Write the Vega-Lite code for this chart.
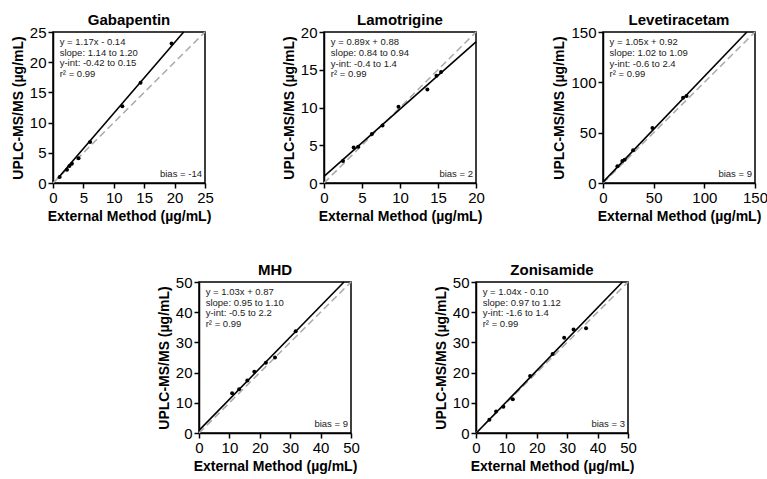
{
  "$schema": "https://vega.github.io/schema/vega-lite/v6.json",
  "background": "white",
  "padding": {"left": 10, "top": 12, "right": 2, "bottom": 2},
  "config": {
    "font": "Liberation Sans",
    "view": {"stroke": "black", "strokeWidth": 1.5},
    "title": {"fontSize": 15, "fontWeight": "bold", "color": "black", "offset": -3, "font": "Liberation Sans"},
    "axis": {"grid": false, "labelFontSize": 15, "labelColor": "black", "labelFont": "Liberation Sans",
      "titleFontSize": 14, "titleFontWeight": "bold", "titleColor": "black", "titleFont": "Liberation Sans",
      "domainColor": "black", "domainWidth": 1.5, "tickColor": "black", "tickWidth": 1.5, "tickSize": 5,
      "labelPadding": 2, "titlePadding": 4, "labelFlush": false, "labelOverlap": false}
  },
  "datasets": {
    "points": [
      {"drug": "Gabapentin", "x": 1.1, "y": 1.0},
      {"drug": "Gabapentin", "x": 2.3, "y": 2.2},
      {"drug": "Gabapentin", "x": 2.7, "y": 2.8},
      {"drug": "Gabapentin", "x": 3.1, "y": 3.2},
      {"drug": "Gabapentin", "x": 4.2, "y": 4.1},
      {"drug": "Gabapentin", "x": 6.1, "y": 6.8},
      {"drug": "Gabapentin", "x": 11.4, "y": 12.7},
      {"drug": "Gabapentin", "x": 14.4, "y": 16.6},
      {"drug": "Gabapentin", "x": 19.5, "y": 23.1},
      {"drug": "Lamotrigine", "x": 2.5, "y": 2.9},
      {"drug": "Lamotrigine", "x": 3.9, "y": 4.7},
      {"drug": "Lamotrigine", "x": 4.5, "y": 4.8},
      {"drug": "Lamotrigine", "x": 6.3, "y": 6.5},
      {"drug": "Lamotrigine", "x": 7.7, "y": 7.6},
      {"drug": "Lamotrigine", "x": 9.8, "y": 10.1},
      {"drug": "Lamotrigine", "x": 13.6, "y": 12.4},
      {"drug": "Lamotrigine", "x": 14.8, "y": 14.2},
      {"drug": "Lamotrigine", "x": 15.4, "y": 14.7},
      {"drug": "Levetiracetam", "x": 14.2, "y": 16.6},
      {"drug": "Levetiracetam", "x": 19.1, "y": 21.9},
      {"drug": "Levetiracetam", "x": 21.4, "y": 23.2},
      {"drug": "Levetiracetam", "x": 29.7, "y": 32.5},
      {"drug": "Levetiracetam", "x": 48.8, "y": 54.6},
      {"drug": "Levetiracetam", "x": 79.0, "y": 84.8},
      {"drug": "Levetiracetam", "x": 82.4, "y": 86.4},
      {"drug": "MHD", "x": 10.9, "y": 13.2},
      {"drug": "MHD", "x": 13.2, "y": 14.5},
      {"drug": "MHD", "x": 15.9, "y": 17.4},
      {"drug": "MHD", "x": 18.2, "y": 20.3},
      {"drug": "MHD", "x": 22.0, "y": 23.3},
      {"drug": "MHD", "x": 25.0, "y": 25.0},
      {"drug": "MHD", "x": 31.8, "y": 33.7},
      {"drug": "Zonisamide", "x": 4.4, "y": 4.4},
      {"drug": "Zonisamide", "x": 6.6, "y": 7.1},
      {"drug": "Zonisamide", "x": 9.0, "y": 8.7},
      {"drug": "Zonisamide", "x": 12.1, "y": 11.2},
      {"drug": "Zonisamide", "x": 17.8, "y": 18.9},
      {"drug": "Zonisamide", "x": 25.2, "y": 26.2},
      {"drug": "Zonisamide", "x": 29.0, "y": 31.5},
      {"drug": "Zonisamide", "x": 32.1, "y": 34.3},
      {"drug": "Zonisamide", "x": 36.2, "y": 34.7}
    ],
    "lines": [
      {"drug": "Gabapentin", "kind": "fit", "x": 0.8, "y": 0.80, "x2": 21.49, "y2": 25},
      {"drug": "Gabapentin", "kind": "identity", "x": 0, "y": 0, "x2": 25, "y2": 25},
      {"drug": "Lamotrigine", "kind": "fit", "x": 0, "y": 0.88, "x2": 20, "y2": 18.68},
      {"drug": "Lamotrigine", "kind": "identity", "x": 0, "y": 0, "x2": 20, "y2": 20},
      {"drug": "Levetiracetam", "kind": "fit", "x": 0, "y": 0.92, "x2": 141.98, "y2": 150},
      {"drug": "Levetiracetam", "kind": "identity", "x": 0, "y": 0, "x2": 150, "y2": 150},
      {"drug": "MHD", "kind": "fit", "x": 0, "y": 0.87, "x2": 47.7, "y2": 50},
      {"drug": "MHD", "kind": "identity", "x": 0, "y": 0, "x2": 50, "y2": 50},
      {"drug": "Zonisamide", "kind": "fit", "x": 0.1, "y": 0.0, "x2": 48.17, "y2": 50},
      {"drug": "Zonisamide", "kind": "identity", "x": 0, "y": 0, "x2": 50, "y2": 50}
    ],
    "notes": [
      {"drug": "Gabapentin", "stats": ["y = 1.17x - 0.14", "slope: 1.14 to 1.20", "y-int: -0.42 to 0.15", "r² = 0.99"], "bias": "bias = -14"},
      {"drug": "Lamotrigine", "stats": ["y = 0.89x + 0.88", "slope: 0.84 to 0.94", "y-int: -0.4 to 1.4", "r² = 0.99"], "bias": "bias = 2"},
      {"drug": "Levetiracetam", "stats": ["y = 1.05x + 0.92", "slope: 1.02 to 1.09", "y-int: -0.6 to 2.4", "r² = 0.99"], "bias": "bias = 9"},
      {"drug": "MHD", "stats": ["y = 1.03x + 0.87", "slope: 0.95 to 1.10", "y-int: -0.5 to 2.2", "r² = 0.99"], "bias": "bias = 9"},
      {"drug": "Zonisamide", "stats": ["y = 1.04x - 0.10", "slope: 0.97 to 1.12", "y-int: -1.6 to 1.4", "r² = 0.99"], "bias": "bias = 3"}
    ]
  },
  "spacing": 38,
  "vconcat": [
    {
      "spacing": 66,
      "hconcat": [
        {
          "title": "Gabapentin", "width": 152, "height": 151,
          "layer": [
            {"data": {"name": "lines"}, "transform": [{"filter": "datum.drug === 'Gabapentin' && datum.kind === 'identity'"}],
             "mark": {"type": "rule", "color": "#aaaaaa", "strokeWidth": 1.6, "strokeDash": [7, 4]},
             "encoding": {"x": {"field": "x", "type": "quantitative", "scale": {"domain": [0, 25], "nice": false}, "axis": {"values": [0, 5, 10, 15, 20, 25], "title": "External Method (µg/mL)"}},
                          "y": {"field": "y", "type": "quantitative", "scale": {"domain": [0, 25], "nice": false}, "axis": {"values": [0, 5, 10, 15, 20, 25], "title": "UPLC-MS/MS (µg/mL)"}},
                          "x2": {"field": "x2"}, "y2": {"field": "y2"}}},
            {"data": {"name": "lines"}, "transform": [{"filter": "datum.drug === 'Gabapentin' && datum.kind === 'fit'"}],
             "mark": {"type": "rule", "color": "black", "strokeWidth": 1.6},
             "encoding": {"x": {"field": "x", "type": "quantitative", "axis": {"values": [0, 5, 10, 15, 20, 25], "title": "External Method (µg/mL)"}},
                          "y": {"field": "y", "type": "quantitative", "axis": {"values": [0, 5, 10, 15, 20, 25], "title": "UPLC-MS/MS (µg/mL)"}},
                          "x2": {"field": "x2"}, "y2": {"field": "y2"}}},
            {"data": {"name": "points"}, "transform": [{"filter": "datum.drug === 'Gabapentin'"}],
             "mark": {"type": "circle", "color": "black", "opacity": 1, "size": 16},
             "encoding": {"x": {"field": "x", "type": "quantitative", "axis": {"values": [0, 5, 10, 15, 20, 25], "title": "External Method (µg/mL)"}},
                          "y": {"field": "y", "type": "quantitative", "axis": {"values": [0, 5, 10, 15, 20, 25], "title": "UPLC-MS/MS (µg/mL)"}}}},
            {"data": {"name": "notes"}, "transform": [{"filter": "datum.drug === 'Gabapentin'"}],
             "mark": {"type": "text", "align": "left", "baseline": "top", "lineHeight": 10.8, "fontSize": 9.5, "color": "#1a1a1a"},
             "encoding": {"x": {"datum": 1.1, "type": "quantitative", "axis": {"values": [0, 5, 10, 15, 20, 25], "title": "External Method (µg/mL)"}},
                          "y": {"datum": 24.2, "type": "quantitative", "axis": {"values": [0, 5, 10, 15, 20, 25], "title": "UPLC-MS/MS (µg/mL)"}},
                          "text": {"field": "stats"}}},
            {"data": {"name": "notes"}, "transform": [{"filter": "datum.drug === 'Gabapentin'"}],
             "mark": {"type": "text", "align": "right", "baseline": "bottom", "fontSize": 9.5, "color": "#1a1a1a"},
             "encoding": {"x": {"datum": 24.5, "type": "quantitative", "axis": {"values": [0, 5, 10, 15, 20, 25], "title": "External Method (µg/mL)"}},
                          "y": {"datum": 0.6, "type": "quantitative", "axis": {"values": [0, 5, 10, 15, 20, 25], "title": "UPLC-MS/MS (µg/mL)"}},
                          "text": {"field": "bias"}}}
          ]
        },
        {
          "title": "Lamotrigine", "width": 152, "height": 151,
          "layer": [
            {"data": {"name": "lines"}, "transform": [{"filter": "datum.drug === 'Lamotrigine' && datum.kind === 'identity'"}],
             "mark": {"type": "rule", "color": "#aaaaaa", "strokeWidth": 1.6, "strokeDash": [7, 4]},
             "encoding": {"x": {"field": "x", "type": "quantitative", "scale": {"domain": [0, 20], "nice": false}, "axis": {"values": [0, 5, 10, 15, 20], "title": "External Method (µg/mL)"}},
                          "y": {"field": "y", "type": "quantitative", "scale": {"domain": [0, 20], "nice": false}, "axis": {"values": [0, 5, 10, 15, 20], "title": "UPLC-MS/MS (µg/mL)"}},
                          "x2": {"field": "x2"}, "y2": {"field": "y2"}}},
            {"data": {"name": "lines"}, "transform": [{"filter": "datum.drug === 'Lamotrigine' && datum.kind === 'fit'"}],
             "mark": {"type": "rule", "color": "black", "strokeWidth": 1.6},
             "encoding": {"x": {"field": "x", "type": "quantitative", "axis": {"values": [0, 5, 10, 15, 20], "title": "External Method (µg/mL)"}},
                          "y": {"field": "y", "type": "quantitative", "axis": {"values": [0, 5, 10, 15, 20], "title": "UPLC-MS/MS (µg/mL)"}},
                          "x2": {"field": "x2"}, "y2": {"field": "y2"}}},
            {"data": {"name": "points"}, "transform": [{"filter": "datum.drug === 'Lamotrigine'"}],
             "mark": {"type": "circle", "color": "black", "opacity": 1, "size": 16},
             "encoding": {"x": {"field": "x", "type": "quantitative", "axis": {"values": [0, 5, 10, 15, 20], "title": "External Method (µg/mL)"}},
                          "y": {"field": "y", "type": "quantitative", "axis": {"values": [0, 5, 10, 15, 20], "title": "UPLC-MS/MS (µg/mL)"}}}},
            {"data": {"name": "notes"}, "transform": [{"filter": "datum.drug === 'Lamotrigine'"}],
             "mark": {"type": "text", "align": "left", "baseline": "top", "lineHeight": 10.8, "fontSize": 9.5, "color": "#1a1a1a"},
             "encoding": {"x": {"datum": 0.9, "type": "quantitative", "axis": {"values": [0, 5, 10, 15, 20], "title": "External Method (µg/mL)"}},
                          "y": {"datum": 19.35, "type": "quantitative", "axis": {"values": [0, 5, 10, 15, 20], "title": "UPLC-MS/MS (µg/mL)"}},
                          "text": {"field": "stats"}}},
            {"data": {"name": "notes"}, "transform": [{"filter": "datum.drug === 'Lamotrigine'"}],
             "mark": {"type": "text", "align": "right", "baseline": "bottom", "fontSize": 9.5, "color": "#1a1a1a"},
             "encoding": {"x": {"datum": 19.6, "type": "quantitative", "axis": {"values": [0, 5, 10, 15, 20], "title": "External Method (µg/mL)"}},
                          "y": {"datum": 0.5, "type": "quantitative", "axis": {"values": [0, 5, 10, 15, 20], "title": "UPLC-MS/MS (µg/mL)"}},
                          "text": {"field": "bias"}}}
          ]
        },
        {
          "title": "Levetiracetam", "width": 152, "height": 151,
          "layer": [
            {"data": {"name": "lines"}, "transform": [{"filter": "datum.drug === 'Levetiracetam' && datum.kind === 'identity'"}],
             "mark": {"type": "rule", "color": "#aaaaaa", "strokeWidth": 1.6, "strokeDash": [7, 4]},
             "encoding": {"x": {"field": "x", "type": "quantitative", "scale": {"domain": [0, 150], "nice": false}, "axis": {"values": [0, 50, 100, 150], "title": "External Method (µg/mL)"}},
                          "y": {"field": "y", "type": "quantitative", "scale": {"domain": [0, 150], "nice": false}, "axis": {"values": [0, 50, 100, 150], "title": "UPLC-MS/MS (µg/mL)"}},
                          "x2": {"field": "x2"}, "y2": {"field": "y2"}}},
            {"data": {"name": "lines"}, "transform": [{"filter": "datum.drug === 'Levetiracetam' && datum.kind === 'fit'"}],
             "mark": {"type": "rule", "color": "black", "strokeWidth": 1.6},
             "encoding": {"x": {"field": "x", "type": "quantitative", "axis": {"values": [0, 50, 100, 150], "title": "External Method (µg/mL)"}},
                          "y": {"field": "y", "type": "quantitative", "axis": {"values": [0, 50, 100, 150], "title": "UPLC-MS/MS (µg/mL)"}},
                          "x2": {"field": "x2"}, "y2": {"field": "y2"}}},
            {"data": {"name": "points"}, "transform": [{"filter": "datum.drug === 'Levetiracetam'"}],
             "mark": {"type": "circle", "color": "black", "opacity": 1, "size": 16},
             "encoding": {"x": {"field": "x", "type": "quantitative", "axis": {"values": [0, 50, 100, 150], "title": "External Method (µg/mL)"}},
                          "y": {"field": "y", "type": "quantitative", "axis": {"values": [0, 50, 100, 150], "title": "UPLC-MS/MS (µg/mL)"}}}},
            {"data": {"name": "notes"}, "transform": [{"filter": "datum.drug === 'Levetiracetam'"}],
             "mark": {"type": "text", "align": "left", "baseline": "top", "lineHeight": 10.8, "fontSize": 9.5, "color": "#1a1a1a"},
             "encoding": {"x": {"datum": 6.5, "type": "quantitative", "axis": {"values": [0, 50, 100, 150], "title": "External Method (µg/mL)"}},
                          "y": {"datum": 145, "type": "quantitative", "axis": {"values": [0, 50, 100, 150], "title": "UPLC-MS/MS (µg/mL)"}},
                          "text": {"field": "stats"}}},
            {"data": {"name": "notes"}, "transform": [{"filter": "datum.drug === 'Levetiracetam'"}],
             "mark": {"type": "text", "align": "right", "baseline": "bottom", "fontSize": 9.5, "color": "#1a1a1a"},
             "encoding": {"x": {"datum": 147, "type": "quantitative", "axis": {"values": [0, 50, 100, 150], "title": "External Method (µg/mL)"}},
                          "y": {"datum": 3.6, "type": "quantitative", "axis": {"values": [0, 50, 100, 150], "title": "UPLC-MS/MS (µg/mL)"}},
                          "text": {"field": "bias"}}}
          ]
        }
      ]
    },
    {
      "spacing": 72,
      "hconcat": [
        {
          "width": 31, "height": 151,
          "view": {"stroke": null},
          "data": {"values": []},
          "mark": {"type": "rule"},
          "encoding": {}
        },
        {
          "title": "MHD", "width": 152, "height": 151,
          "layer": [
            {"data": {"name": "lines"}, "transform": [{"filter": "datum.drug === 'MHD' && datum.kind === 'identity'"}],
             "mark": {"type": "rule", "color": "#aaaaaa", "strokeWidth": 1.6, "strokeDash": [7, 4]},
             "encoding": {"x": {"field": "x", "type": "quantitative", "scale": {"domain": [0, 50], "nice": false}, "axis": {"values": [0, 10, 20, 30, 40, 50], "title": "External Method (µg/mL)"}},
                          "y": {"field": "y", "type": "quantitative", "scale": {"domain": [0, 50], "nice": false}, "axis": {"values": [0, 10, 20, 30, 40, 50], "title": "UPLC-MS/MS (µg/mL)"}},
                          "x2": {"field": "x2"}, "y2": {"field": "y2"}}},
            {"data": {"name": "lines"}, "transform": [{"filter": "datum.drug === 'MHD' && datum.kind === 'fit'"}],
             "mark": {"type": "rule", "color": "black", "strokeWidth": 1.6},
             "encoding": {"x": {"field": "x", "type": "quantitative", "axis": {"values": [0, 10, 20, 30, 40, 50], "title": "External Method (µg/mL)"}},
                          "y": {"field": "y", "type": "quantitative", "axis": {"values": [0, 10, 20, 30, 40, 50], "title": "UPLC-MS/MS (µg/mL)"}},
                          "x2": {"field": "x2"}, "y2": {"field": "y2"}}},
            {"data": {"name": "points"}, "transform": [{"filter": "datum.drug === 'MHD'"}],
             "mark": {"type": "circle", "color": "black", "opacity": 1, "size": 16},
             "encoding": {"x": {"field": "x", "type": "quantitative", "axis": {"values": [0, 10, 20, 30, 40, 50], "title": "External Method (µg/mL)"}},
                          "y": {"field": "y", "type": "quantitative", "axis": {"values": [0, 10, 20, 30, 40, 50], "title": "UPLC-MS/MS (µg/mL)"}}}},
            {"data": {"name": "notes"}, "transform": [{"filter": "datum.drug === 'MHD'"}],
             "mark": {"type": "text", "align": "left", "baseline": "top", "lineHeight": 10.8, "fontSize": 9.5, "color": "#1a1a1a"},
             "encoding": {"x": {"datum": 2.2, "type": "quantitative", "axis": {"values": [0, 10, 20, 30, 40, 50], "title": "External Method (µg/mL)"}},
                          "y": {"datum": 48.4, "type": "quantitative", "axis": {"values": [0, 10, 20, 30, 40, 50], "title": "UPLC-MS/MS (µg/mL)"}},
                          "text": {"field": "stats"}}},
            {"data": {"name": "notes"}, "transform": [{"filter": "datum.drug === 'MHD'"}],
             "mark": {"type": "text", "align": "right", "baseline": "bottom", "fontSize": 9.5, "color": "#1a1a1a"},
             "encoding": {"x": {"datum": 49, "type": "quantitative", "axis": {"values": [0, 10, 20, 30, 40, 50], "title": "External Method (µg/mL)"}},
                          "y": {"datum": 1.2, "type": "quantitative", "axis": {"values": [0, 10, 20, 30, 40, 50], "title": "UPLC-MS/MS (µg/mL)"}},
                          "text": {"field": "bias"}}}
          ]
        },
        {
          "title": "Zonisamide", "width": 152, "height": 151,
          "layer": [
            {"data": {"name": "lines"}, "transform": [{"filter": "datum.drug === 'Zonisamide' && datum.kind === 'identity'"}],
             "mark": {"type": "rule", "color": "#aaaaaa", "strokeWidth": 1.6, "strokeDash": [7, 4]},
             "encoding": {"x": {"field": "x", "type": "quantitative", "scale": {"domain": [0, 50], "nice": false}, "axis": {"values": [0, 10, 20, 30, 40, 50], "title": "External Method (µg/mL)"}},
                          "y": {"field": "y", "type": "quantitative", "scale": {"domain": [0, 50], "nice": false}, "axis": {"values": [0, 10, 20, 30, 40, 50], "title": "UPLC-MS/MS (µg/mL)"}},
                          "x2": {"field": "x2"}, "y2": {"field": "y2"}}},
            {"data": {"name": "lines"}, "transform": [{"filter": "datum.drug === 'Zonisamide' && datum.kind === 'fit'"}],
             "mark": {"type": "rule", "color": "black", "strokeWidth": 1.6},
             "encoding": {"x": {"field": "x", "type": "quantitative", "axis": {"values": [0, 10, 20, 30, 40, 50], "title": "External Method (µg/mL)"}},
                          "y": {"field": "y", "type": "quantitative", "axis": {"values": [0, 10, 20, 30, 40, 50], "title": "UPLC-MS/MS (µg/mL)"}},
                          "x2": {"field": "x2"}, "y2": {"field": "y2"}}},
            {"data": {"name": "points"}, "transform": [{"filter": "datum.drug === 'Zonisamide'"}],
             "mark": {"type": "circle", "color": "black", "opacity": 1, "size": 16},
             "encoding": {"x": {"field": "x", "type": "quantitative", "axis": {"values": [0, 10, 20, 30, 40, 50], "title": "External Method (µg/mL)"}},
                          "y": {"field": "y", "type": "quantitative", "axis": {"values": [0, 10, 20, 30, 40, 50], "title": "UPLC-MS/MS (µg/mL)"}}}},
            {"data": {"name": "notes"}, "transform": [{"filter": "datum.drug === 'Zonisamide'"}],
             "mark": {"type": "text", "align": "left", "baseline": "top", "lineHeight": 10.8, "fontSize": 9.5, "color": "#1a1a1a"},
             "encoding": {"x": {"datum": 2.2, "type": "quantitative", "axis": {"values": [0, 10, 20, 30, 40, 50], "title": "External Method (µg/mL)"}},
                          "y": {"datum": 48.4, "type": "quantitative", "axis": {"values": [0, 10, 20, 30, 40, 50], "title": "UPLC-MS/MS (µg/mL)"}},
                          "text": {"field": "stats"}}},
            {"data": {"name": "notes"}, "transform": [{"filter": "datum.drug === 'Zonisamide'"}],
             "mark": {"type": "text", "align": "right", "baseline": "bottom", "fontSize": 9.5, "color": "#1a1a1a"},
             "encoding": {"x": {"datum": 49, "type": "quantitative", "axis": {"values": [0, 10, 20, 30, 40, 50], "title": "External Method (µg/mL)"}},
                          "y": {"datum": 1.2, "type": "quantitative", "axis": {"values": [0, 10, 20, 30, 40, 50], "title": "UPLC-MS/MS (µg/mL)"}},
                          "text": {"field": "bias"}}}
          ]
        }
      ]
    }
  ]
}
